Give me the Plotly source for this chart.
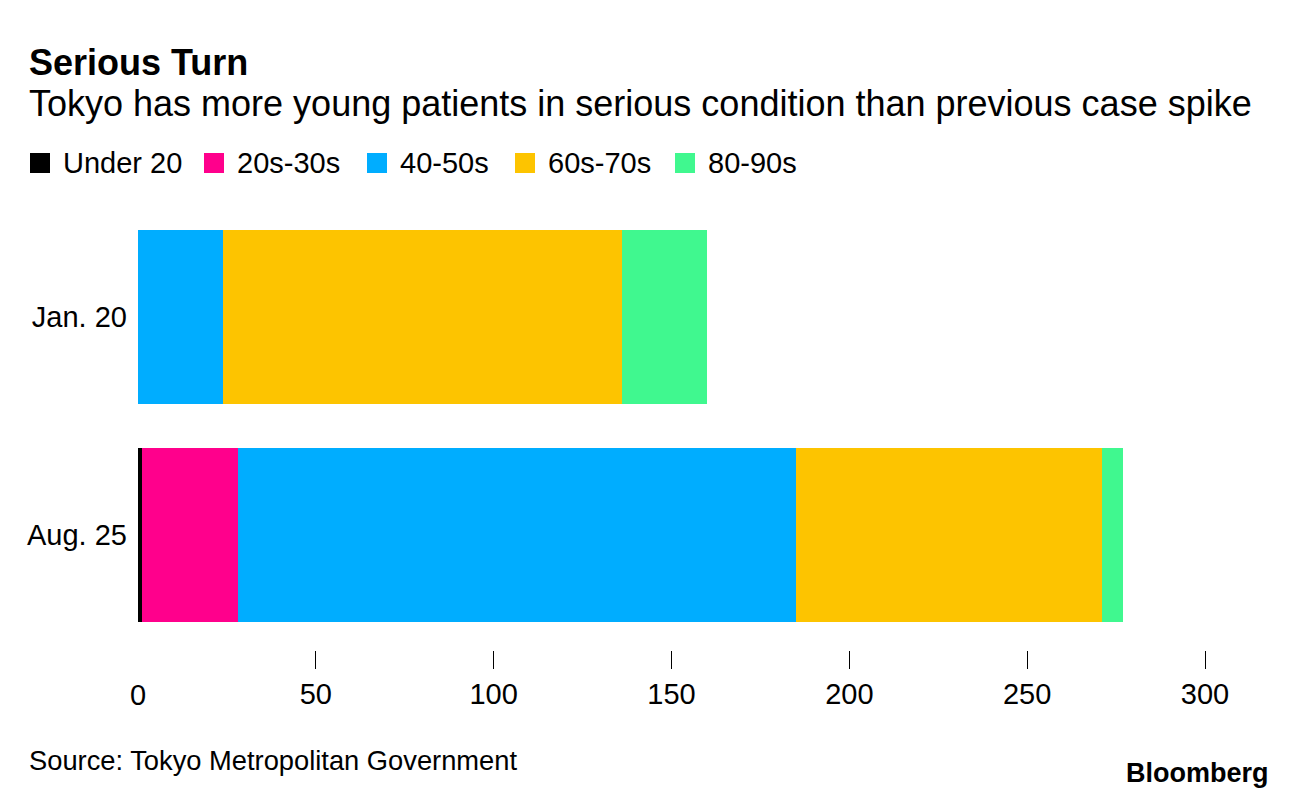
import plotly.graph_objects as go

categories = ["Jan. 20", "Aug. 25"]
series_names = ["Under 20", "20s-30s", "40-50s", "60s-70s", "80-90s"]
under20 = [0, 1]
s20_30 = [0, 27]
s40_50 = [24, 157]
s60_70 = [112, 86]
s80_90 = [24, 6]
series_values = [under20, s20_30, s40_50, s60_70, s80_90]
colors = ["#000000", "#ff008c", "#00adff", "#fdc400", "#40f88f"]
tick_vals = [0, 50, 100, 150, 200, 250, 300]

W, H = 1296, 800
OFF = 8  # page offset of the figure
L, R, T, B = 138, 1205, 208, 650
FONT = "Liberation Sans"


def px(x):
    return (x - L) / (R - L)


def py(y):
    return (B - y) / (B - T)


fig = go.Figure()
for name, vals, col in zip(series_names, series_values, colors):
    fig.add_trace(go.Bar(
        y=categories, x=vals, name=name, orientation="h",
        marker=dict(color=col, line=dict(width=0)),
        showlegend=False,
    ))

annotations = []
shapes = []
annotations.append(dict(text="<b>Serious Turn</b>", x=px(27), y=py(62), xref="paper", yref="paper",
                        xanchor="left", yanchor="middle", showarrow=False,
                        font=dict(size=36, color="#000", family=FONT)))
annotations.append(dict(text="Tokyo has more young patients in serious condition than previous case spike",
                        x=px(27), y=py(104), xref="paper", yref="paper",
                        xanchor="left", yanchor="middle", showarrow=False,
                        font=dict(size=36, color="#000", family=FONT)))
text_lefts = [62, 236, 399, 547, 707]
for name, col, tl in zip(series_names, colors, text_lefts):
    shapes.append(dict(type="rect", xref="paper", yref="paper",
                       x0=px(tl - 32), x1=px(tl - 12), y0=py(173), y1=py(153),
                       fillcolor=col, line=dict(width=0)))
    annotations.append(dict(text=name, x=px(tl - 1), y=py(163), xref="paper", yref="paper",
                            xanchor="left", yanchor="middle", showarrow=False,
                            font=dict(size=29, color="#000", family=FONT)))
annotations.append(dict(text="0", x=0, y=py(695), xref="x", yref="paper",
                        xanchor="center", yanchor="middle", showarrow=False,
                        font=dict(size=29, color="#000", family=FONT)))
annotations.append(dict(text="Source: Tokyo Metropolitan Government", x=px(27), y=py(760),
                        xref="paper", yref="paper", xanchor="left", yanchor="middle",
                        showarrow=False, font=dict(size=27.3, color="#000", family=FONT)))
annotations.append(dict(text="<b>Bloomberg</b>", x=px(1271), y=py(773),
                        xref="paper", yref="paper", xanchor="right", yanchor="middle",
                        showarrow=False, font=dict(size=27, color="#000", family=FONT)))

fig.update_layout(
    width=W, height=H,
    margin=dict(l=L - OFF, r=W - R + OFF, t=T - OFF, b=H - B + OFF, pad=0),
    barmode="stack", bargap=0.2,
    plot_bgcolor="white", paper_bgcolor="white",
    font=dict(family=FONT, size=29, color="#000"),
    xaxis=dict(range=[0, 300], tickvals=tick_vals[1:], ticktext=[str(v) for v in tick_vals[1:]],
               ticks="outside", ticklen=18, tickwidth=1.3, tickcolor="#000",
               showgrid=False, zeroline=False, showline=False,
               tickfont=dict(size=29, family=FONT, color="#000")),
    yaxis=dict(range=[1.53, -0.5], showgrid=False, zeroline=False, showline=False,
               ticks="", ticklabelstandoff=10,
               tickfont=dict(size=29, family=FONT, color="#000")),
    annotations=annotations, shapes=shapes,
)
fig.write_html("out.html")
